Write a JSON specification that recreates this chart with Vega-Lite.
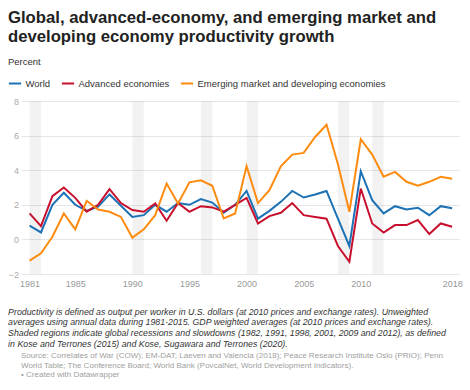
{
  "$schema": "https://vega.github.io/schema/vega-lite/v6.json",
  "background": "white",
  "padding": {"left": 7, "top": 9, "right": 5, "bottom": 5},
  "title": {
    "text": [
      "Source: Correlates of War (COW); EM-DAT; Laeven and Valencia (2018); Peace Research Institute Oslo (PRIO); Penn",
      "World Table; The Conference Board; World Bank (PovcalNet, World Development Indicators).",
      " • Created with Datawrapper"
    ],
    "orient": "bottom",
    "anchor": "start",
    "frame": "group",
    "offset": 4,
    "font": "Liberation Sans",
    "fontSize": 8.05,
    "fontWeight": "normal",
    "color": "#a0a0a0",
    "lineHeight": 9.7
  },
  "resolve": {"scale": {"color": "independent"}, "legend": {"color": "independent"}},
  "vconcat": [
    {
      "title": {
        "text": ["Global, advanced-economy, and emerging market and", "developing economy productivity growth"],
        "subtitle": "Percent",
        "anchor": "start",
        "frame": "group",
        "dx": -13,
        "font": "Liberation Sans",
        "fontSize": 16.7,
        "fontWeight": "bold",
        "color": "#222222",
        "lineHeight": 19,
        "subtitleFont": "Liberation Sans",
        "subtitleFontSize": 9.5,
        "subtitleColor": "#333333",
        "subtitlePadding": 11,
        "offset": 10
      },
      "width": 438,
      "height": 173,
      "layer": [
        {
          "data": {"values": [
            {"start": 1981, "end": 1982},
            {"start": 1990, "end": 1991},
            {"start": 1996, "end": 1997},
            {"start": 2000, "end": 2001},
            {"start": 2008, "end": 2009},
            {"start": 2011, "end": 2012}
          ]},
          "mark": {"type": "rect", "color": "#000000", "opacity": 0.05},
          "encoding": {
            "x": {"field": "start", "type": "quantitative", "scale": {"domain": [1980.25, 2018.6], "nice": false, "zero": false}},
            "x2": {"field": "end"}
          }
        },
        {
          "mark": {"type": "rule", "color": "#555555", "strokeWidth": 1.2},
          "encoding": {"y": {"datum": 0, "type": "quantitative"}}
        },
        {
          "data": {"values": [
            {"year": 1981, "series": "World", "value": 0.8},
            {"year": 1982, "series": "World", "value": 0.4},
            {"year": 1983, "series": "World", "value": 2.0},
            {"year": 1984, "series": "World", "value": 2.7},
            {"year": 1985, "series": "World", "value": 2.0},
            {"year": 1986, "series": "World", "value": 1.65},
            {"year": 1987, "series": "World", "value": 1.9},
            {"year": 1988, "series": "World", "value": 2.6},
            {"year": 1989, "series": "World", "value": 1.95},
            {"year": 1990, "series": "World", "value": 1.3},
            {"year": 1991, "series": "World", "value": 1.4},
            {"year": 1992, "series": "World", "value": 2.0},
            {"year": 1993, "series": "World", "value": 1.6},
            {"year": 1994, "series": "World", "value": 2.1},
            {"year": 1995, "series": "World", "value": 2.0},
            {"year": 1996, "series": "World", "value": 2.33},
            {"year": 1997, "series": "World", "value": 2.13},
            {"year": 1998, "series": "World", "value": 1.54},
            {"year": 1999, "series": "World", "value": 2.0},
            {"year": 2000, "series": "World", "value": 2.8},
            {"year": 2001, "series": "World", "value": 1.2},
            {"year": 2002, "series": "World", "value": 1.65},
            {"year": 2003, "series": "World", "value": 2.17},
            {"year": 2004, "series": "World", "value": 2.8},
            {"year": 2005, "series": "World", "value": 2.42},
            {"year": 2006, "series": "World", "value": 2.6},
            {"year": 2007, "series": "World", "value": 2.8},
            {"year": 2008, "series": "World", "value": 1.2},
            {"year": 2009, "series": "World", "value": -0.38},
            {"year": 2010, "series": "World", "value": 3.94},
            {"year": 2011, "series": "World", "value": 2.27},
            {"year": 2012, "series": "World", "value": 1.5},
            {"year": 2013, "series": "World", "value": 1.92},
            {"year": 2014, "series": "World", "value": 1.73},
            {"year": 2015, "series": "World", "value": 1.83},
            {"year": 2016, "series": "World", "value": 1.4},
            {"year": 2017, "series": "World", "value": 1.92},
            {"year": 2018, "series": "World", "value": 1.8},
            {"year": 1981, "series": "Advanced economies", "value": 1.5},
            {"year": 1982, "series": "Advanced economies", "value": 0.77},
            {"year": 1983, "series": "Advanced economies", "value": 2.5},
            {"year": 1984, "series": "Advanced economies", "value": 3.0},
            {"year": 1985, "series": "Advanced economies", "value": 2.4},
            {"year": 1986, "series": "Advanced economies", "value": 1.6},
            {"year": 1987, "series": "Advanced economies", "value": 2.0},
            {"year": 1988, "series": "Advanced economies", "value": 2.9},
            {"year": 1989, "series": "Advanced economies", "value": 2.1},
            {"year": 1990, "series": "Advanced economies", "value": 1.7},
            {"year": 1991, "series": "Advanced economies", "value": 1.6},
            {"year": 1992, "series": "Advanced economies", "value": 2.08},
            {"year": 1993, "series": "Advanced economies", "value": 1.08},
            {"year": 1994, "series": "Advanced economies", "value": 2.1},
            {"year": 1995, "series": "Advanced economies", "value": 1.6},
            {"year": 1996, "series": "Advanced economies", "value": 1.92},
            {"year": 1997, "series": "Advanced economies", "value": 1.85},
            {"year": 1998, "series": "Advanced economies", "value": 1.6},
            {"year": 1999, "series": "Advanced economies", "value": 2.0},
            {"year": 2000, "series": "Advanced economies", "value": 2.4},
            {"year": 2001, "series": "Advanced economies", "value": 0.92},
            {"year": 2002, "series": "Advanced economies", "value": 1.35},
            {"year": 2003, "series": "Advanced economies", "value": 1.54},
            {"year": 2004, "series": "Advanced economies", "value": 2.1},
            {"year": 2005, "series": "Advanced economies", "value": 1.4},
            {"year": 2006, "series": "Advanced economies", "value": 1.3},
            {"year": 2007, "series": "Advanced economies", "value": 1.2},
            {"year": 2008, "series": "Advanced economies", "value": -0.38},
            {"year": 2009, "series": "Advanced economies", "value": -1.29},
            {"year": 2010, "series": "Advanced economies", "value": 2.94},
            {"year": 2011, "series": "Advanced economies", "value": 0.92},
            {"year": 2012, "series": "Advanced economies", "value": 0.4},
            {"year": 2013, "series": "Advanced economies", "value": 0.83},
            {"year": 2014, "series": "Advanced economies", "value": 0.83},
            {"year": 2015, "series": "Advanced economies", "value": 1.12},
            {"year": 2016, "series": "Advanced economies", "value": 0.31},
            {"year": 2017, "series": "Advanced economies", "value": 0.92},
            {"year": 2018, "series": "Advanced economies", "value": 0.73},
            {"year": 1981, "series": "Emerging market and developing economies", "value": -1.23},
            {"year": 1982, "series": "Emerging market and developing economies", "value": -0.8},
            {"year": 1983, "series": "Emerging market and developing economies", "value": 0.15},
            {"year": 1984, "series": "Emerging market and developing economies", "value": 1.5},
            {"year": 1985, "series": "Emerging market and developing economies", "value": 0.58},
            {"year": 1986, "series": "Emerging market and developing economies", "value": 2.23},
            {"year": 1987, "series": "Emerging market and developing economies", "value": 1.73},
            {"year": 1988, "series": "Emerging market and developing economies", "value": 1.6},
            {"year": 1989, "series": "Emerging market and developing economies", "value": 1.3},
            {"year": 1990, "series": "Emerging market and developing economies", "value": 0.1},
            {"year": 1991, "series": "Emerging market and developing economies", "value": 0.58},
            {"year": 1992, "series": "Emerging market and developing economies", "value": 1.4},
            {"year": 1993, "series": "Emerging market and developing economies", "value": 3.23},
            {"year": 1994, "series": "Emerging market and developing economies", "value": 2.08},
            {"year": 1995, "series": "Emerging market and developing economies", "value": 3.3},
            {"year": 1996, "series": "Emerging market and developing economies", "value": 3.42},
            {"year": 1997, "series": "Emerging market and developing economies", "value": 3.1},
            {"year": 1998, "series": "Emerging market and developing economies", "value": 1.21},
            {"year": 1999, "series": "Emerging market and developing economies", "value": 1.5},
            {"year": 2000, "series": "Emerging market and developing economies", "value": 4.23},
            {"year": 2001, "series": "Emerging market and developing economies", "value": 2.1},
            {"year": 2002, "series": "Emerging market and developing economies", "value": 2.85},
            {"year": 2003, "series": "Emerging market and developing economies", "value": 4.23},
            {"year": 2004, "series": "Emerging market and developing economies", "value": 4.9},
            {"year": 2005, "series": "Emerging market and developing economies", "value": 5.0},
            {"year": 2006, "series": "Emerging market and developing economies", "value": 5.92},
            {"year": 2007, "series": "Emerging market and developing economies", "value": 6.63},
            {"year": 2008, "series": "Emerging market and developing economies", "value": 4.35},
            {"year": 2009, "series": "Emerging market and developing economies", "value": 1.6},
            {"year": 2010, "series": "Emerging market and developing economies", "value": 5.79},
            {"year": 2011, "series": "Emerging market and developing economies", "value": 4.9},
            {"year": 2012, "series": "Emerging market and developing economies", "value": 3.62},
            {"year": 2013, "series": "Emerging market and developing economies", "value": 3.9},
            {"year": 2014, "series": "Emerging market and developing economies", "value": 3.33},
            {"year": 2015, "series": "Emerging market and developing economies", "value": 3.1},
            {"year": 2016, "series": "Emerging market and developing economies", "value": 3.33},
            {"year": 2017, "series": "Emerging market and developing economies", "value": 3.62},
            {"year": 2018, "series": "Emerging market and developing economies", "value": 3.5}
          ]},
          "mark": {"type": "line", "strokeWidth": 2, "strokeJoin": "miter"},
          "encoding": {
            "x": {
              "field": "year", "type": "quantitative",
              "title": [
                "Productivity is defined as output per worker in U.S. dollars (at 2010 prices and exchange rates). Unweighted",
                "averages using annual data during 1981-2015. GDP weighted averages (at 2010 prices and exchange rates).",
                "Shaded regions indicate global recessions and slowdowns (1982, 1991, 1998, 2001, 2009 and 2012), as defined",
                "in Kose and Terrones (2015) and Kose, Sugawara and Terrones (2020)."
              ],
              "scale": {"domain": [1980.25, 2018.6], "nice": false, "zero": false},
              "axis": {
                "values": [1981, 1985, 1990, 1995, 2000, 2005, 2010, 2018],
                "tickCount": 20,
                "format": "d", "grid": false, "domain": false, "ticks": false,
                "labelFont": "Liberation Sans", "labelFontSize": 9, "labelColor": "#999999",
                "labelPadding": 5, "labelFlush": false, "labelOverlap": false,
                "titleFont": "Liberation Sans", "titleFontSize": 8.8, "titleFontStyle": "italic",
                "titleFontWeight": "normal", "titleColor": "#333333", "titleLineHeight": 10.7,
                "titleAnchor": "start", "titleAlign": "left", "titleX": -13.4,
                "titleBaseline": "top", "titlePadding": 19
              }
            },
            "y": {
              "field": "value", "type": "quantitative", "title": null,
              "scale": {"domain": [-2, 8], "nice": false},
              "axis": {
                "values": [-2, 0, 2, 4, 6, 8],
                "tickCount": 10,
                "grid": true, "gridColor": "#e6e6e6", "gridWidth": 1,
                "domain": false, "ticks": false, "labelOverlap": false,
                "labelFont": "Liberation Sans", "labelFontSize": 9, "labelColor": "#aaaaaa",
                "labelPadding": 2.5
              }
            },
            "color": {
              "field": "series", "type": "nominal",
              "scale": {
                "domain": ["World", "Advanced economies", "Emerging market and developing economies"],
                "range": ["#1c72b5", "#c8102e", "#fd8b0f"]
              },
              "legend": {
                "title": null, "orient": "none", "legendX": -13.5, "legendY": -25,
                "direction": "horizontal",
                "symbolType": "stroke", "symbolSize": 150, "symbolStrokeWidth": 2,
                "labelFont": "Liberation Sans", "labelFontSize": 9.5, "labelColor": "#333333",
                "labelOffset": 3, "columnPadding": 7, "labelLimit": 400
              }
            }
          }
        }
      ]
    }
  ],
  "config": {
    "view": {"stroke": null},
    "concat": {"spacing": 0}
  }
}
